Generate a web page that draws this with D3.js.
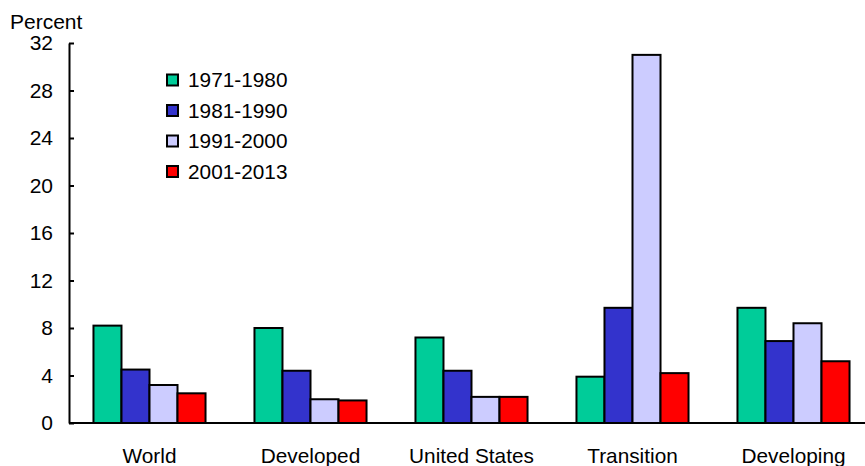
<!DOCTYPE html>
<html>
<head>
<meta charset="utf-8">
<script src="https://cdn.jsdelivr.net/npm/d3@7"></script>
<style>
  body { margin: 0; background: #fff; }
  svg { display: block; font-family: "Liberation Sans", Arial, sans-serif; }
</style>
</head>
<body>
<svg id="chart" width="865" height="466"></svg>
<script>
const categories = ["World", "Developed", "United States", "Transition", "Developing"];
const seriesNames = ["1971-1980", "1981-1990", "1991-2000", "2001-2013"];
const seriesColors = ["#00CC99", "#3333CC", "#CCCCFF", "#FF0000"];
const values1971 = [8.2, 8.0, 7.2, 3.9, 9.7];
const values1981 = [4.5, 4.4, 4.4, 9.7, 6.9];
const values1991 = [3.2, 2.0, 2.2, 31.0, 8.4];
const values2001 = [2.5, 1.9, 2.2, 4.2, 5.2];
const yTicks = [0, 4, 8, 12, 16, 20, 24, 28, 32];
const yLabel = "Percent";

const seriesValues = [values1971, values1981, values1991, values2001];

const svg = d3.select("#chart");
const x0 = 69, x1 = 874, yTop = 43, yBottom = 423;

const x = d3.scaleBand().domain(categories).range([x0, x1])
  .paddingInner(0.304).paddingOuter(0.152);
const xs = d3.scaleBand().domain(seriesNames).range([0, x.bandwidth()]);
const y = d3.scaleLinear().domain([0, 32]).range([yBottom, yTop]);

// Bars
const groups = svg.append("g").selectAll("g")
  .data(categories).join("g")
  .attr("transform", d => `translate(${x(d)},0)`);

groups.selectAll("rect")
  .data((c, ci) => seriesNames.map((s, si) => ({ s, si, v: seriesValues[si][ci] })))
  .join("rect")
  .attr("x", d => xs(d.s))
  .attr("width", xs.bandwidth())
  .attr("y", d => y(d.v))
  .attr("height", d => y(0) - y(d.v))
  .attr("fill", d => seriesColors[d.si])
  .attr("stroke", "#000")
  .attr("stroke-width", 2);

// Y axis
const yAxis = d3.axisLeft(y).tickValues(yTicks).tickSizeInner(-5).tickSizeOuter(0).tickPadding(16);
const gy = svg.append("g").attr("transform", `translate(${x0},0)`).call(yAxis);
gy.select(".domain").attr("stroke-width", 2);
gy.selectAll(".tick line").attr("stroke-width", 2);
gy.selectAll(".tick text").attr("font-size", "21px").attr("font-family", "Liberation Sans, Arial, sans-serif").attr("fill", "#000");

// X axis line
svg.append("line").attr("x1", x0).attr("x2", 865).attr("y1", y(0)).attr("y2", y(0))
  .attr("stroke", "#000").attr("stroke-width", 2);

// Category labels
svg.append("g").selectAll("text").data(categories).join("text")
  .attr("x", d => x(d) + x.bandwidth() / 2)
  .attr("y", 463)
  .attr("text-anchor", "middle")
  .attr("font-size", "20.8px")
  .text(d => d);

// Y label
svg.append("text").attr("x", 10).attr("y", 29).attr("font-size", "21px").text(yLabel);

// Legend
const legend = svg.append("g").selectAll("g").data(seriesNames).join("g")
  .attr("transform", (d, i) => `translate(167, ${80 + i * 30.5})`);
legend.append("rect").attr("x", 0).attr("y", -5.5).attr("width", 11).attr("height", 11)
  .attr("fill", (d, i) => seriesColors[i]).attr("stroke", "#000").attr("stroke-width", 2);
legend.append("text").attr("x", 21).attr("y", 0).attr("dy", "0.35em")
  .attr("font-size", "20.8px").text(d => d);
</script>
</body>
</html>
